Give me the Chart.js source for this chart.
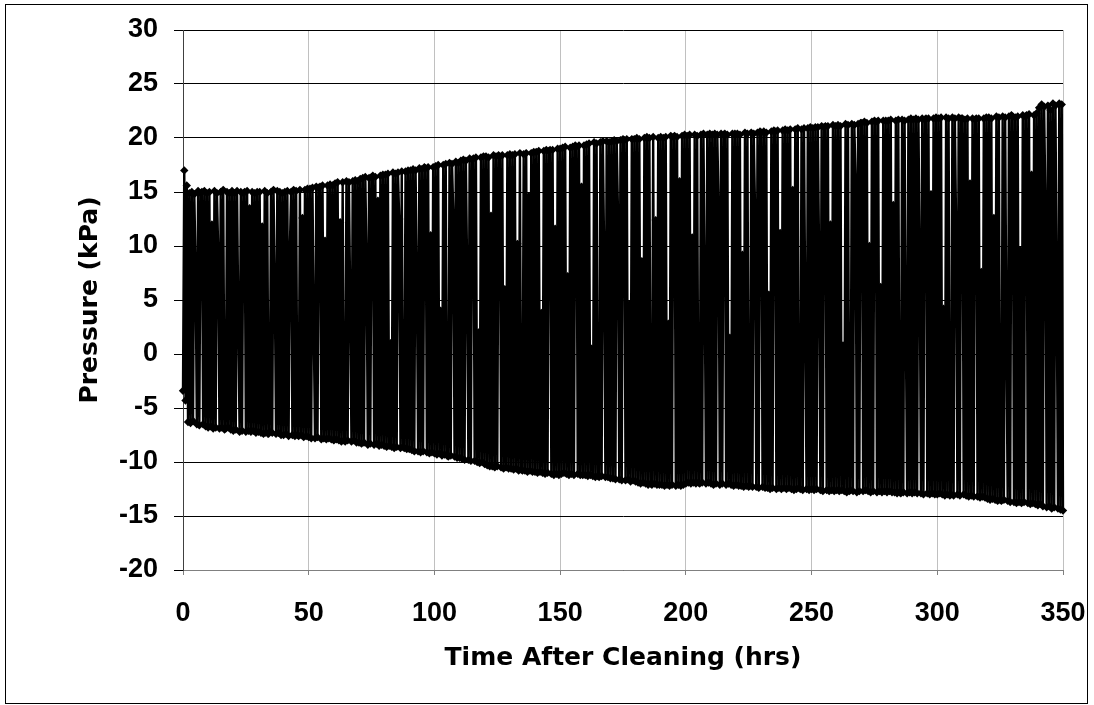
<!DOCTYPE html>
<html>
<head>
<meta charset="utf-8">
<script src="https://cdn.jsdelivr.net/npm/chart.js@4.4.1/dist/chart.umd.min.js"></script>
<style>
  html, body { margin: 0; padding: 0; background: #ffffff; }
  #wrap { width: 1094px; height: 705px; }
</style>
</head>
<body>
<div id="wrap"><canvas id="c" width="1094" height="705"></canvas></div>
<script>
// Time after cleaning (hrs)
const times = [
0,0.5,1,1.5,2,2.5,3,3.5,4,4.5,5,5.5,6,6.5,7,7.5,8,8.5,9,9.5,
10,10.5,11,11.5,12,12.5,13,13.5,14,14.5,15,15.5,16,16.5,17,17.5,18,18.5,19,19.5,
20,20.5,21,21.5,22,22.5,23,23.5,24,24.5,25,25.5,26,26.5,27,27.5,28,28.5,29,29.5,
30,30.5,31,31.5,32,32.5,33,33.5,34,34.5,35,35.5,36,36.5,37,37.5,38,38.5,39,39.5,
40,40.5,41,41.5,42,42.5,43,43.5,44,44.5,45,45.5,46,46.5,47,47.5,48,48.5,49,49.5,
50,50.5,51,51.5,52,52.5,53,53.5,54,54.5,55,55.5,56,56.5,57,57.5,58,58.5,59,59.5,
60,60.5,61,61.5,62,62.5,63,63.5,64,64.5,65,65.5,66,66.5,67,67.5,68,68.5,69,69.5,
70,70.5,71,71.5,72,72.5,73,73.5,74,74.5,75,75.5,76,76.5,77,77.5,78,78.5,79,79.5,
80,80.5,81,81.5,82,82.5,83,83.5,84,84.5,85,85.5,86,86.5,87,87.5,88,88.5,89,89.5,
90,90.5,91,91.5,92,92.5,93,93.5,94,94.5,95,95.5,96,96.5,97,97.5,98,98.5,99,99.5,
100,100.5,101,101.5,102,102.5,103,103.5,104,104.5,105,105.5,106,106.5,107,107.5,108,108.5,109,109.5,
110,110.5,111,111.5,112,112.5,113,113.5,114,114.5,115,115.5,116,116.5,117,117.5,118,118.5,119,119.5,
120,120.5,121,121.5,122,122.5,123,123.5,124,124.5,125,125.5,126,126.5,127,127.5,128,128.5,129,129.5,
130,130.5,131,131.5,132,132.5,133,133.5,134,134.5,135,135.5,136,136.5,137,137.5,138,138.5,139,139.5,
140,140.5,141,141.5,142,142.5,143,143.5,144,144.5,145,145.5,146,146.5,147,147.5,148,148.5,149,149.5,
150,150.5,151,151.5,152,152.5,153,153.5,154,154.5,155,155.5,156,156.5,157,157.5,158,158.5,159,159.5,
160,160.5,161,161.5,162,162.5,163,163.5,164,164.5,165,165.5,166,166.5,167,167.5,168,168.5,169,169.5,
170,170.5,171,171.5,172,172.5,173,173.5,174,174.5,175,175.5,176,176.5,177,177.5,178,178.5,179,179.5,
180,180.5,181,181.5,182,182.5,183,183.5,184,184.5,185,185.5,186,186.5,187,187.5,188,188.5,189,189.5,
190,190.5,191,191.5,192,192.5,193,193.5,194,194.5,195,195.5,196,196.5,197,197.5,198,198.5,199,199.5,
200,200.5,201,201.5,202,202.5,203,203.5,204,204.5,205,205.5,206,206.5,207,207.5,208,208.5,209,209.5,
210,210.5,211,211.5,212,212.5,213,213.5,214,214.5,215,215.5,216,216.5,217,217.5,218,218.5,219,219.5,
220,220.5,221,221.5,222,222.5,223,223.5,224,224.5,225,225.5,226,226.5,227,227.5,228,228.5,229,229.5,
230,230.5,231,231.5,232,232.5,233,233.5,234,234.5,235,235.5,236,236.5,237,237.5,238,238.5,239,239.5,
240,240.5,241,241.5,242,242.5,243,243.5,244,244.5,245,245.5,246,246.5,247,247.5,248,248.5,249,249.5,
250,250.5,251,251.5,252,252.5,253,253.5,254,254.5,255,255.5,256,256.5,257,257.5,258,258.5,259,259.5,
260,260.5,261,261.5,262,262.5,263,263.5,264,264.5,265,265.5,266,266.5,267,267.5,268,268.5,269,269.5,
270,270.5,271,271.5,272,272.5,273,273.5,274,274.5,275,275.5,276,276.5,277,277.5,278,278.5,279,279.5,
280,280.5,281,281.5,282,282.5,283,283.5,284,284.5,285,285.5,286,286.5,287,287.5,288,288.5,289,289.5,
290,290.5,291,291.5,292,292.5,293,293.5,294,294.5,295,295.5,296,296.5,297,297.5,298,298.5,299,299.5,
300,300.5,301,301.5,302,302.5,303,303.5,304,304.5,305,305.5,306,306.5,307,307.5,308,308.5,309,309.5,
310,310.5,311,311.5,312,312.5,313,313.5,314,314.5,315,315.5,316,316.5,317,317.5,318,318.5,319,319.5,
320,320.5,321,321.5,322,322.5,323,323.5,324,324.5,325,325.5,326,326.5,327,327.5,328,328.5,329,329.5,
330,330.5,331,331.5,332,332.5,333,333.5,334,334.5,335,335.5,336,336.5,337,337.5,338,338.5,339,339.5,
340,340.5,341,341.5,342,342.5,343,343.5,344,344.5,345,345.5,346,346.5,347,347.5,348,348.5,349,349.5,
350,350.5,351
];

// Pressure (kPa)
const pressure = [
-3.4,17.0,-4.3,15.6,-6.3,14.9,-6.4,15.0,-6.2,14.8,8.2,-6.5,15.1,-6.6,14.9,15.0,-6.5,15.1,-6.7,14.9,
-6.8,15.0,-6.7,12.0,-6.9,15.1,-6.8,14.9,9.6,-6.9,15.0,-6.8,15.2,-7.0,-6.9,15.0,-6.8,14.9,-7.0,15.1,
-7.1,14.9,-7.0,15.1,3.2,-7.2,15.0,-7.1,14.9,15.0,-7.2,15.1,-7.1,13.5,-7.2,15.0,-7.1,14.9,-7.3,15.0,
-7.2,15.0,-7.3,11.8,-7.4,15.1,-7.3,14.9,-7.4,-7.2,15.0,-7.3,15.2,6.5,-7.4,15.1,-7.3,15.0,-7.5,14.9,
-7.5,15.0,-7.4,15.1,-7.6,9.8,15.0,-7.5,15.2,-7.6,15.1,-7.5,-7.6,15.2,-7.5,12.6,-7.7,15.2,-7.6,15.3,
-7.7,15.3,-7.8,15.4,2.5,-7.8,15.5,-7.7,15.4,15.5,-7.9,15.6,-7.8,10.5,-7.9,15.6,-7.8,15.7,-7.9,15.6,
-8.0,15.8,-7.9,15.9,-8.0,12.2,-8.1,15.9,-8.0,-8.1,16.0,-8.0,15.9,5.0,-8.1,16.0,-8.0,16.1,-8.2,16.0,
-8.2,16.2,-8.3,16.3,-8.2,16.4,9.0,-8.4,16.3,-8.3,16.4,16.5,-8.4,16.4,-8.3,14.2,-8.5,16.5,-8.4,16.6,
-8.5,16.6,-8.6,16.7,-8.5,1.0,-8.6,16.8,-8.7,16.7,-8.6,16.8,12.5,-8.7,16.9,-8.6,-8.7,16.9,-8.8,17.0,
-8.8,17.0,-8.9,17.1,-9.0,17.0,7.4,-9.0,17.2,-9.1,17.1,-9.0,17.3,17.2,-9.1,17.3,-9.2,11.0,-9.1,17.3,
-9.2,17.4,-9.3,17.5,-9.2,4.0,-9.4,17.5,-9.3,17.6,-9.4,-9.5,17.7,-9.4,17.6,13.0,-9.5,17.8,-9.6,17.7,
-9.6,17.9,-9.7,18.0,-9.8,17.9,8.0,-9.8,18.1,-9.9,18.0,18.1,-9.9,18.2,-10.0,2.0,-10.1,18.2,-10.0,18.3,
-10.2,18.3,-10.3,18.2,-10.4,12.8,-10.4,18.4,-10.5,18.3,-10.4,18.4,18.3,-10.5,18.4,-10.6,6.0,-10.5,18.4,-10.6,
18.5,-10.6,18.4,-10.7,18.5,-10.6,10.2,-10.8,18.6,-10.7,-10.8,18.5,-10.8,18.6,-10.9,14.6,-10.8,18.6,-10.9,18.7,
-10.9,18.7,-11.0,18.8,-10.9,3.8,-11.0,18.8,-11.1,18.9,-11.0,18.8,18.9,-11.1,18.9,-11.2,11.6,-11.1,19.0,-11.2,
19.0,-11.1,19.1,-11.0,19.2,-11.1,7.2,-11.2,19.1,-11.1,19.2,-11.2,19.3,19.2,-11.1,19.3,-11.2,15.5,-11.2,19.3,
-11.2,19.4,-11.3,19.5,-11.2,0.5,-11.3,19.6,-11.4,19.5,-11.3,-11.4,19.6,-11.3,19.7,9.4,-11.4,19.7,-11.4,19.6,
-11.5,19.7,-11.5,19.8,-11.6,19.7,13.2,-11.6,19.8,-11.7,19.9,19.8,-11.7,19.9,-11.6,4.6,-11.8,19.9,-11.7,19.9,
-11.8,20.0,-11.9,19.9,-12.0,8.6,-11.9,20.0,-12.0,20.1,-12.1,20.0,-12.0,-12.1,20.1,-12.0,12.4,-12.1,20.0,-12.1,
20.1,-12.1,20.0,-12.2,20.1,-12.1,2.8,-12.2,20.2,-12.1,20.1,20.2,-12.2,20.1,-12.1,16.0,-12.2,20.2,-12.1,20.3,
-12.0,20.2,-11.9,20.3,-12.0,10.8,-11.9,20.3,-12.0,20.2,-11.9,-12.0,20.3,-11.9,20.4,6.8,-12.0,20.3,-11.9,20.4,
-12.0,20.3,-12.1,20.4,-12.0,20.3,14.0,-12.1,20.4,-12.0,20.3,20.4,-12.1,20.3,-12.0,1.5,-12.1,20.4,-12.2,20.4,
-12.1,20.4,-12.2,20.3,-12.2,9.2,-12.3,20.5,-12.2,20.4,-12.3,-12.2,20.5,-12.3,20.4,13.6,-12.3,20.5,-12.4,20.6,
20.5,-12.3,20.6,-12.4,20.5,-12.4,5.5,-12.5,20.6,-12.4,20.7,20.6,-12.5,20.7,-12.4,11.2,-12.5,20.7,-12.4,20.8,
-12.5,20.7,-12.4,20.8,-12.5,15.2,-12.6,20.8,-12.5,20.9,-12.4,-12.5,20.8,-12.6,20.9,3.5,-12.5,20.9,-12.6,21.0,
-12.5,20.9,-12.6,21.0,-12.5,21.0,8.8,-12.6,21.1,-12.7,21.0,21.1,-12.6,21.1,-12.7,12.0,-12.6,21.2,-12.7,21.1,
-12.6,21.2,-12.7,21.1,-12.6,0.8,-12.7,21.3,-12.8,21.2,-12.7,-12.6,21.3,-12.7,21.2,16.4,-12.8,21.3,-12.7,21.4,
21.4,-12.7,21.5,-12.6,21.4,-12.7,10.0,-12.8,21.5,-12.7,21.6,21.5,-12.8,21.6,-12.7,6.2,-12.8,21.6,-12.7,21.6,
-12.8,21.6,-12.7,21.7,-12.8,13.8,-12.8,21.6,-12.9,21.7,-12.8,-12.9,21.7,-12.8,21.6,2.2,-12.9,21.7,-12.8,21.8,
-12.9,21.7,-12.8,21.8,-12.9,21.7,9.0,-12.9,21.8,-13.0,21.7,21.8,-12.9,21.8,-13.0,14.8,-12.9,21.8,-13.0,21.9,
-13.0,21.8,-12.9,21.9,-13.0,4.2,-13.1,21.9,-13.0,21.8,-13.1,-13.0,21.9,-13.1,21.8,11.5,-13.0,21.9,-13.1,21.8,
21.8,-13.0,21.7,-13.1,21.8,-13.2,15.8,-13.1,21.8,-13.2,21.7,21.8,-13.2,21.8,-13.3,7.6,-13.2,21.8,-13.3,21.9,
-13.4,21.9,-13.5,21.8,-13.4,12.6,-13.5,22.0,-13.6,21.9,-13.5,-13.6,22.0,-13.5,21.9,1.2,-13.6,22.0,-13.7,22.1,
22.0,-13.7,21.9,-13.8,22.0,-13.7,9.6,-13.8,22.1,-13.7,22.0,22.1,-13.8,22.2,-13.9,16.6,-13.8,22.1,-13.9,22.3,
-14.0,22.8,-13.9,23.1,-14.1,22.9,14.0,-14.2,23.0,-14.1,22.6,-14.3,23.2,-14.2,23.0,6.0,-14.3,23.2,-14.4,23.1,
-14.5,22.8,-14.3
];

const xTickValues = [0, 50, 100, 150, 200, 250, 300, 350];
const yTickValues = [-20, -15, -10, -5, 0, 5, 10, 15, 20, 25, 30];
const xTitle = 'Time After Cleaning (hrs)';
const yTitle = 'Pressure (kPa)';

const points = [];
for (let i = 0; i < Math.min(times.length, pressure.length); i++) {
  points.push({ x: times[i], y: pressure[i] });
}

const framePlugin = {
  id: 'frame',
  beforeDraw(chart) {
    const ctx = chart.ctx;
    ctx.save();
    ctx.fillStyle = '#ffffff';
    ctx.fillRect(0, 0, chart.width, chart.height);
    ctx.restore();
  },
  afterDraw(chart) {
    const ctx = chart.ctx;
    ctx.save();
    ctx.strokeStyle = '#000000';
    ctx.lineWidth = 1;
    ctx.strokeRect(5.5, 4.5, 1082, 699);
    ctx.restore();
  }
};

Chart.defaults.font.family = "'Liberation Sans', Arial, sans-serif";
Chart.defaults.font.weight = 'bold';
Chart.defaults.color = '#000000';

new Chart(document.getElementById('c'), {
  type: 'scatter',
  data: {
    datasets: [{
      data: points,
      showLine: true,
      borderColor: '#000000',
      borderWidth: 2.4,
      backgroundColor: '#000000',
      pointStyle: 'rectRot',
      pointRadius: 4.2,
      pointBorderWidth: 0,
      pointBackgroundColor: '#000000',
      tension: 0,
      clip: false
    }]
  },
  plugins: [framePlugin],
  options: {
    responsive: false,
    animation: false,
    devicePixelRatio: 1,
    layout: { padding: { left: 6, right: 31, top: 30, bottom: 0 } },
    plugins: { legend: { display: false }, tooltip: { enabled: false } },
    scales: {
      x: {
        type: 'linear',
        min: 0,
        max: 350,
        afterBuildTicks: s => { s.ticks = xTickValues.map(v => ({ value: v })); },
        afterFit: s => { s.height = 135; },
        ticks: { font: { size: 27, weight: 'bold', lineHeight: 2.6 }, color: '#000', padding: 3, maxRotation: 0 },
        grid: { color: '#c0c0c0', lineWidth: 1, tickLength: 5, tickColor: '#808080' },
        border: { display: true, color: '#808080', width: 1 },
        title: {
          display: true,
          text: xTitle,
          font: { family: "'DejaVu Sans', sans-serif", size: 25, weight: 'bold' },
          color: '#000',
          padding: { top: 0, bottom: 32 }
        }
      },
      y: {
        type: 'linear',
        min: -20,
        max: 30,
        afterBuildTicks: s => { s.ticks = yTickValues.map(v => ({ value: v })); },
        afterFit: s => { s.width = 177; },
        ticks: { font: { size: 27, weight: 'bold', lineHeight: 1.0 }, color: '#000', padding: 16 },
        grid: { color: '#000000', lineWidth: 1, tickLength: 9, tickColor: '#000000' },
        border: { display: true, color: '#404040', width: 1 },
        title: {
          display: true,
          text: yTitle,
          font: { family: "'DejaVu Sans', sans-serif", size: 25, weight: 'bold' },
          color: '#000',
          padding: { top: 69, bottom: 0 }
        }
      }
    }
  }
});
</script>
</body>
</html>
